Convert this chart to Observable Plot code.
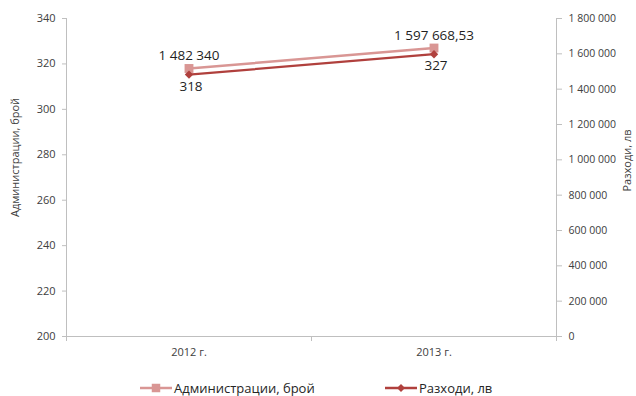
<!DOCTYPE html>
<html>
<head>
<meta charset="utf-8">
<script src="https://cdn.jsdelivr.net/npm/d3@7"></script>
<script src="https://cdn.jsdelivr.net/npm/@observablehq/plot@0.6"></script>
<style>
  html, body { margin: 0; padding: 0; background: #fff; overflow: hidden; }
  #chart { position: relative; width: 636px; height: 396px; font-family: "Open Sans", sans-serif; }
  .legend { position: absolute; top: 379px; left: 0; width: 636px; height: 18px; font-size: 13px; color: #262626; }
  .legend .item { position: absolute; top: 0; display: flex; align-items: center; height: 18px; white-space: nowrap; }
  .legend svg { display: block; margin-right: 2px; }
</style>
</head>
<body>
<div id="chart"></div>
<script>
const years = ["2012 г.", "2013 г."];
const administrations = [318, 327];
const expenses = [1482340, 1597668.53];
const leftTicks = [200, 220, 240, 260, 280, 300, 320, 340];
const rightTicks = [0, 200000, 400000, 600000, 800000, 1000000, 1200000, 1400000, 1600000, 1800000];
const seriesNames = ["Администрации, брой", "Разходи, лв"];
const seriesColors = ["#d99694", "#b0403d"];

const leftMin = 200, leftMax = 340, rightMax = 1800000;
const toLeft = v => leftMin + v / rightMax * (leftMax - leftMin);
const fromLeft = y => (y - leftMin) / (leftMax - leftMin) * rightMax;

const bg = d3.formatLocale({decimal: ",", thousands: "\u00a0", grouping: [3], currency: ["", ""]});
const fmtInt = bg.format(",d");
const fmtVal = bg.format(",.2~f");

const data = years.map((year, i) => ({
  i, year, pos: i + 0.5,
  adm: administrations[i],
  exp: expenses[i],
  expL: toLeft(expenses[i])
}));

const axisColor = "#bfbfbf";
const textColor = "#404040";

const plot = Plot.plot({
  width: 636,
  height: 365,
  marginLeft: 66,
  marginRight: 80,
  marginTop: 18,
  marginBottom: 29,
  x: {type: "linear", domain: [0, years.length], axis: null},
  y: {domain: [leftMin, leftMax], axis: null},
  style: {fontFamily: "Open Sans, sans-serif", fontSize: "11px", color: textColor, background: "#fff"},
  marks: [
    Plot.ruleY([leftMin], {stroke: axisColor, strokeWidth: 1}),
    Plot.ruleX([0, years.length], {y1: leftMin, y2: leftMax, stroke: axisColor, strokeWidth: 1}),
    Plot.axisY({anchor: "left", ticks: leftTicks, tickSize: 4, tickPadding: 7, label: null,
      stroke: axisColor, strokeOpacity: 1, fill: textColor, fontSize: 11, tickFormat: d => String(d)}),
    Plot.axisY({anchor: "right", ticks: rightTicks.map(toLeft), tickSize: 5, tickPadding: 7, label: null,
      stroke: axisColor, strokeOpacity: 1, fill: textColor, fontSize: 10.5,
      tickFormat: d => fmtInt(Math.round(fromLeft(d)))}),
    Plot.axisX({anchor: "bottom", ticks: d3.range(0, years.length + 1), tickSize: 5, tickFormat: () => "",
      label: null, stroke: axisColor, strokeOpacity: 1}),
    Plot.axisX({anchor: "bottom", ticks: years.map((_, i) => i + 0.5), tickSize: 0, tickPadding: 12,
      label: null, fill: textColor, fontSize: 11, tickFormat: d => years[Math.round(d - 0.5)]}),
    // Axis titles
    Plot.text([seriesNames[0]], {frameAnchor: "left", textAnchor: "middle", rotate: -90, dx: -51, dy: -20,
      fill: textColor, fontSize: 11, text: d => d}),
    Plot.text([seriesNames[1]], {frameAnchor: "right", textAnchor: "middle", rotate: -90, dx: 71, dy: -17,
      fill: textColor, fontSize: 11, text: d => d}),
    // Series
    Plot.line(data, {x: "pos", y: "adm", stroke: seriesColors[0], strokeWidth: 2.5}),
    Plot.line(data, {x: "pos", y: "expL", stroke: seriesColors[1], strokeWidth: 2.25}),
    Plot.dot(data, {x: "pos", y: "adm", symbol: "square", r: 5, fill: seriesColors[0], stroke: "none"}),
    Plot.dot(data, {x: "pos", y: "expL", symbol: "diamond2", r: 3.8, fill: seriesColors[1], stroke: "none"}),
    // Data labels
    Plot.text(data, {x: "pos", y: "expL", text: d => fmtVal(d.exp), dy: -19, fill: "#1f1f1f", fontSize: 13.5}),
    Plot.text(data, {x: "pos", y: "adm", text: d => String(d.adm), dy: 18, dx: 2, fill: "#1f1f1f", fontSize: 13.5})
  ]
});

const chart = document.getElementById("chart");
chart.appendChild(plot);

// Legend
const legend = document.createElement("div");
legend.className = "legend";
const legendLeft = [140, 385];
seriesNames.forEach((name, i) => {
  const item = document.createElement("div");
  item.className = "item";
  item.style.left = legendLeft[i] + "px";
  const svg = d3.create("svg").attr("width", 32).attr("height", 18);
  svg.append("line").attr("x1", 0).attr("x2", 32).attr("y1", 9).attr("y2", 9)
    .attr("stroke", seriesColors[i]).attr("stroke-width", 2.5);
  const sym = i === 0 ? d3.symbolSquare : d3.symbolDiamond2;
  const size = i === 0 ? 72 : 40;
  svg.append("path").attr("d", d3.symbol(sym, size)()).attr("transform", "translate(16,9)")
    .attr("fill", seriesColors[i]);
  item.appendChild(svg.node());
  const span = document.createElement("span");
  span.textContent = name;
  item.appendChild(span);
  legend.appendChild(item);
});
chart.appendChild(legend);
</script>
</body>
</html>
